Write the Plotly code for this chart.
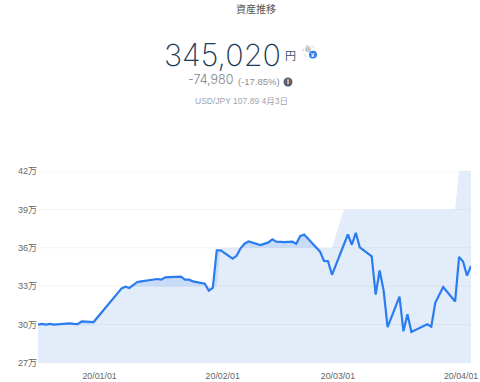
import plotly.graph_objects as go

value_dates = ["2019-12-16","2019-12-17","2019-12-18","2019-12-19","2019-12-20","2019-12-21","2019-12-22","2019-12-23","2019-12-24","2019-12-25","2019-12-26","2019-12-27","2019-12-28","2019-12-29","2019-12-30",
 "2020-01-06","2020-01-07","2020-01-08","2020-01-09","2020-01-10","2020-01-11","2020-01-12","2020-01-13","2020-01-14","2020-01-15","2020-01-16","2020-01-17","2020-01-18","2020-01-19","2020-01-20","2020-01-21","2020-01-22","2020-01-23","2020-01-24","2020-01-25","2020-01-26","2020-01-27","2020-01-28","2020-01-29","2020-01-30","2020-01-31",
 "2020-02-03","2020-02-04","2020-02-05","2020-02-06","2020-02-07","2020-02-08","2020-02-10","2020-02-12","2020-02-13","2020-02-14","2020-02-16","2020-02-18","2020-02-19","2020-02-20","2020-02-21",
 "2020-02-25","2020-02-26","2020-02-27","2020-02-28","2020-03-03","2020-03-04","2020-03-05","2020-03-06","2020-03-09","2020-03-10","2020-03-11","2020-03-12","2020-03-13","2020-03-16","2020-03-17","2020-03-18","2020-03-19","2020-03-23","2020-03-24","2020-03-25","2020-03-27","2020-03-30","2020-03-31","2020-04-01","2020-04-02","2020-04-03"]
values = [30.00,30.05,30.00,30.05,30.00,30.02,30.05,30.09,30.09,30.05,30.03,30.25,30.23,30.21,30.20,
 32.81,32.96,32.86,33.09,33.33,33.38,33.43,33.48,33.56,33.56,33.51,33.69,33.71,33.73,33.74,33.74,33.51,33.51,33.38,33.30,33.25,33.20,32.65,32.86,35.80,35.80,
 35.16,35.37,35.96,36.32,36.50,36.42,36.22,36.42,36.66,36.48,36.45,36.48,36.32,36.91,37.04,
 35.70,34.98,34.95,33.89,37.04,36.24,37.17,36.04,35.34,32.34,34.23,32.68,29.81,32.19,29.48,30.80,29.43,30.02,29.84,31.70,32.94,31.80,35.29,34.93,33.82,34.59]

cost_dates = ["2019-12-16","2019-12-30","2020-01-06","2020-01-30","2020-01-31","2020-02-28","2020-03-02","2020-03-30","2020-03-31","2020-04-03"]
cost = [30,30,33,33,36,36,39,39,42,42]

tick_vals_y = [27,30,33,36,39,42]
tick_text_y = ["27万","30万","33万","36万","39万","42万"]
tick_vals_x = ["2019-12-31 12:00","2020-01-31 12:00","2020-02-29 12:00","2020-03-31 12:00"]
tick_text_x = ["20/01/01","20/02/01","20/03/01","20/04/01"]
x_range = ["2019-12-16","2020-04-03"]

L, R, T, B = 38, 9, 170.5, 18.5
PW, PH = 480-L-R, 382-T-B
def px(x): return (x-L)/PW
def py(y): return (382-B-y)/PH

GRID_X, GRID_Y = [], []
for v in tick_vals_y[1:]:
    GRID_X += [x_range[0], x_range[1], None]
    GRID_Y += [v, v, None]

fig = go.Figure()
fig.add_trace(go.Scatter(x=value_dates, y=values, mode="none", fill="tozeroy", fillcolor="#c8dcfa", hoverinfo="skip"))
fig.add_trace(go.Scatter(x=cost_dates, y=cost, mode="none", fill="tozeroy", fillcolor="#e3ecf9", hoverinfo="skip"))
fig.add_trace(go.Scatter(x=GRID_X, y=GRID_Y, mode="lines", line=dict(color="rgba(60,70,90,0.06)", width=1), hoverinfo="skip"))
fig.add_trace(go.Scatter(x=value_dates, y=values, mode="lines", line=dict(color="#2a7cf0", width=2.2)))

JP = "Inter, 'Noto Sans CJK JP', sans-serif"
JP2 = "'Liberation Sans', 'Noto Sans CJK JP', sans-serif"
def note(x, y, text, size, color, anchor="center", weight=None, family=JP2):
    fig.add_annotation(xref="paper", yref="paper", x=px(x), y=py(y), text=text, showarrow=False,
        xanchor=anchor, yanchor="middle", font=dict(size=size, color=color, family=family, weight=weight))

note(256, 8, "資産推移", 10, "#555555")
note(222.5, 53.5, "345,020", 30.5, "#1e3a56", weight=200, family=JP)
note(290, 55, "円", 11, "#3c5268")
note(186, 79, "-74,980", 12.5, "#7a7f88", anchor="left", weight=300, family=JP)
note(236, 81, "(-17.85%)", 9.5, "#8a8f98", anchor="left")
note(288, 81, "i", 7, "#ffffff", weight=700)
note(241, 100, "USD/JPY 107.89 4月3日", 8.5, "#a0a4ab")
note(313, 53.5, "¥", 6, "#ffffff", weight=700)

def circle(cx, cy, r, **kw):
    fig.add_shape(type="circle", xref="paper", yref="paper", x0=px(cx-r), x1=px(cx+r), y0=py(cy+r), y1=py(cy-r), **kw)
circle(309, 50, 6, line=dict(color="#c9cdd2", width=1, dash="dot"), fillcolor="rgba(0,0,0,0)")
circle(308, 48, 3, line=dict(width=0), fillcolor="#c4c8cd")
circle(313, 53.5, 4, line=dict(width=0), fillcolor="#2a7cf0")
circle(288, 81, 4.5, line=dict(width=0), fillcolor="#5a6070")

fig.update_layout(
    width=480, height=382, margin=dict(l=L, r=R, t=T, b=B, autoexpand=False), showlegend=False,
    plot_bgcolor="white", paper_bgcolor="white",
    xaxis=dict(range=x_range, tickmode="array", tickvals=tick_vals_x, ticktext=tick_text_x, showgrid=False, zeroline=False,
               showline=False, ticks="outside", ticklen=4, tickcolor="rgba(0,0,0,0)", automargin=False, ticklabeloverflow="allow",
               tickfont=dict(size=8.8, color="#666666", family=JP2)),
    yaxis=dict(range=[27,42], tickmode="array", tickvals=tick_vals_y, ticktext=tick_text_y, showgrid=False, zeroline=False,
               showline=False, ticks="", automargin=False, tickfont=dict(size=9, color="#666666", family=JP2)),
)
fig.write_html("out.html", config={"displayModeBar": False},
               post_script="document.body.style.margin='0';document.documentElement.style.overflow='hidden';")
